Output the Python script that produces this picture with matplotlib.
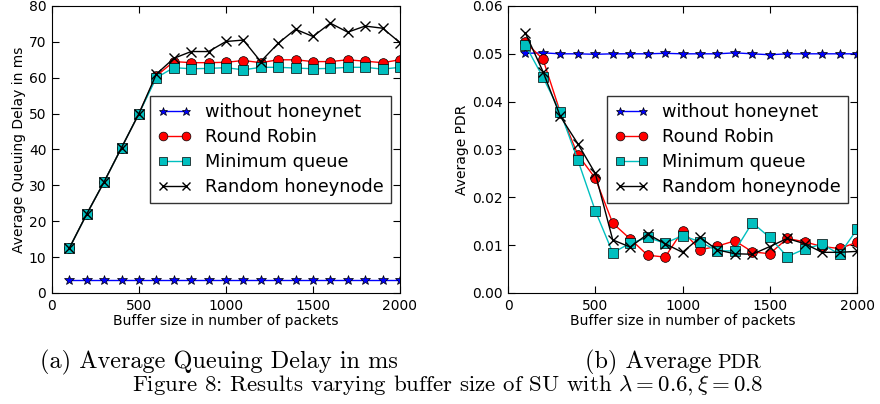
import matplotlib
matplotlib.use("Agg")
import matplotlib.pyplot as plt
from matplotlib.ticker import FormatStrFormatter

# buffer sizes (packets)
buffer_size = [100, 200, 300, 400, 500, 600, 700, 800, 900, 1000,
               1100, 1200, 1300, 1400, 1500, 1600, 1700, 1800, 1900, 2000]

# (a) average queuing delay in ms
delay_without = [3.5] * 20
delay_rr = [12.5, 22, 31, 40.5, 50, 60.5, 64.5, 64.2, 64.2, 64.3,
            64.8, 64.2, 65.0, 65.0, 64.5, 64.5, 65.0, 64.6, 64.2, 65.0]
delay_mq = [12.5, 22, 31, 40.5, 50, 60, 62.8, 62.5, 62.6, 62.8,
            62.2, 62.9, 62.9, 62.7, 62.5, 62.6, 62.9, 62.9, 62.4, 62.9]
delay_rand = [12.5, 22, 31, 40.5, 50, 61, 65.4, 67.3, 67.3, 70.1,
              70.5, 64.5, 69.6, 73.5, 71.5, 75.2, 72.7, 74.4, 73.8, 69.8]

# (b) average PDR
pdr_without = [0.0501, 0.0502, 0.0500, 0.0500, 0.0499, 0.0500, 0.0500, 0.0500, 0.0501, 0.0500,
               0.0500, 0.0500, 0.0502, 0.0500, 0.0498, 0.0500, 0.0500, 0.0500, 0.0500, 0.0500]
pdr_rr = [0.0524, 0.0489, 0.0377, 0.0289, 0.0240, 0.0146, 0.0113, 0.0079, 0.0075, 0.0130,
          0.0090, 0.0098, 0.0109, 0.0086, 0.0082, 0.0114, 0.0107, 0.0097, 0.0093, 0.0106]
pdr_mq = [0.0518, 0.0451, 0.0378, 0.0278, 0.0172, 0.0084, 0.0104, 0.0116, 0.0104, 0.0120,
          0.0107, 0.0088, 0.0088, 0.0147, 0.0116, 0.0076, 0.0092, 0.0102, 0.0081, 0.0133]
pdr_rand = [0.0543, 0.0463, 0.0369, 0.0312, 0.0250, 0.0111, 0.0096, 0.0123, 0.0103, 0.0085,
            0.0116, 0.0090, 0.0082, 0.0081, 0.0097, 0.0114, 0.0103, 0.0085, 0.0085, 0.0087]

labels = ["without honeynet", "Round Robin", "Minimum queue", "Random honeynode"]

plt.rcParams['mathtext.fontset'] = 'cm'
plt.rcParams['xtick.direction'] = 'in'
plt.rcParams['ytick.direction'] = 'in'
plt.rcParams['xtick.top'] = True
plt.rcParams['ytick.right'] = True
plt.rcParams['xtick.major.size'] = 5
plt.rcParams['ytick.major.size'] = 5

fig = plt.figure(figsize=(8.8, 4.04), dpi=100)
ax1 = fig.add_axes([0.059, 0.2748, 0.3955, 0.7104])
ax2 = fig.add_axes([0.5773, 0.2748, 0.3966, 0.7104])


def draw(ax, ys):
    ax.plot(buffer_size, ys[0], '-', color='b', lw=1, marker='*', ms=7, mec='k', mew=0.5, label=labels[0])
    ax.plot(buffer_size, ys[1], '-', color='r', lw=1, marker='o', ms=7, mec='k', mew=0.5, label=labels[1])
    ax.plot(buffer_size, ys[2], '-', color='c', lw=1, marker='s', ms=7, mec='k', mew=0.5, label=labels[2])
    ax.plot(buffer_size, ys[3], '-', color='k', lw=1, marker='x', ms=7, mew=1, label=labels[3])
    ax.set_xlim(0, 2000)
    ax.set_xticks([0, 500, 1000, 1500, 2000])
    ax.set_xlabel("Buffer size in number of packets", fontsize=10, labelpad=1)
    ax.tick_params(labelsize=10, pad=4)
    leg = ax.legend(loc='center right', numpoints=2, fontsize=12.8, fancybox=False,
                    borderaxespad=0.5, handlelength=1.9, handletextpad=0.8,
                    labelspacing=0.4, markerscale=0.9)
    leg.get_frame().set_edgecolor('k')


draw(ax1, [delay_without, delay_rr, delay_mq, delay_rand])
ax1.set_ylim(0, 80)
ax1.set_yticks(range(0, 81, 10))
ax1.set_ylabel("Average Queuing Delay in ms", fontsize=10, labelpad=2)

draw(ax2, [pdr_without, pdr_rr, pdr_mq, pdr_rand])
ax2.set_ylim(0, 0.06)
ax2.set_yticks([0, 0.01, 0.02, 0.03, 0.04, 0.05, 0.06])
ax2.yaxis.set_major_formatter(FormatStrFormatter('%.2f'))
ax2.set_ylabel("Average PDR", fontsize=10, labelpad=2)

# captions
fig.text(219 / 880, 0.089, "(a) Average Queuing Delay in ms", ha='center', va='baseline',
         family='cmr10', fontsize=17.5)
fig.text(712 / 880, 0.089, "(b) Average", ha='right', va='baseline', family='cmr10', fontsize=17.5)
fig.text(717 / 880, 0.089, "PDR", ha='left', va='baseline', family='cmr10', fontsize=14.5)
fig.text(448 / 880, 0.032, r"Figure 8: Results varying buffer size of SU with $\lambda = 0.6, \xi = 0.8$",
         ha='center', va='baseline', family='cmr10', fontsize=16.5)

fig.savefig("out.png", dpi=100)
